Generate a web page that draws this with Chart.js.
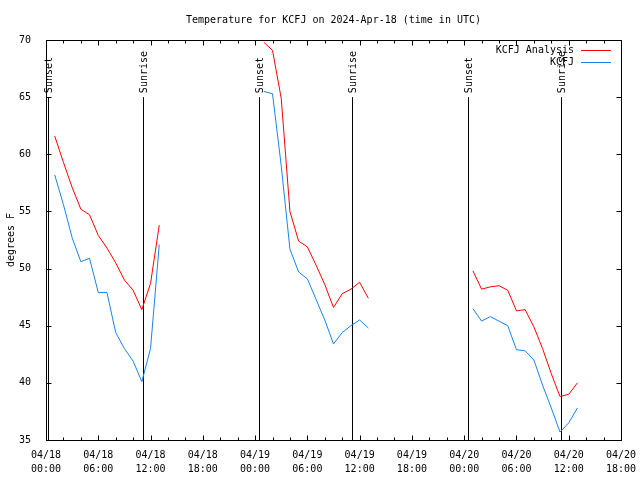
<!DOCTYPE html>
<html><head><meta charset="utf-8">
<script src="https://cdn.jsdelivr.net/npm/chart.js@4/dist/chart.umd.min.js"></script>
<style>html,body{margin:0;padding:0;background:#fff}canvas{display:block}</style>
</head><body>
<canvas id="c" width="640" height="480"></canvas>
<script>
const titleText = 'Temperature for KCFJ on 2024-Apr-18 (time in UTC)';
const yAxisTitle = 'degrees F';
const seriesNames = ['KCFJ Analysis', 'KCFJ'];
const seriesColors = ['#ff0000', '#1a82f0'];
// hours since 04/18 00:00 UTC (null values break the line between days)
const hours = [1,2,3,4,5,6,7,8,9,10,11,12,13, 14,
               25,26,27,28,29,30,31,32,33,34,35,36,37, 38,
               49,50,51,52,53,54,55,56,57,58,59,60,61];
const analysisTemps = [61.6,59.3,57.1,55.2,54.7,52.9,51.8,50.5,49.0,48.1,46.4,48.7,53.8, null,
                       69.8,69.1,64.9,55.0,52.4,51.9,50.3,48.6,46.6,47.8,48.2,48.8,47.4, null,
                       49.8,48.2,48.4,48.5,48.1,46.3,46.4,44.9,43.0,40.8,38.8,39.0,40.0];
const observedTemps = [58.2,55.6,52.7,50.6,50.9,47.9,47.9,44.4,43.0,41.9,40.1,43.0,52.1, null,
                       65.5,65.3,59.0,51.7,49.7,49.1,47.3,45.5,43.4,44.4,45.0,45.5,44.8, null,
                       46.5,45.4,45.8,45.4,45.0,42.9,42.8,42.0,39.8,37.8,35.7,36.5,37.8];
const xLabelHours = [0,6,12,18,24,30,36,42,48,54,60,66];
const xTickLabels = [['04/18','00:00'],['04/18','06:00'],['04/18','12:00'],['04/18','18:00'],
                     ['04/19','00:00'],['04/19','06:00'],['04/19','12:00'],['04/19','18:00'],
                     ['04/20','00:00'],['04/20','06:00'],['04/20','12:00'],['04/20','18:00']];
const xMinorStep = 2;
const yTicks = [35,40,45,50,55,60,65,70];
const sunLabels = ['Sunset','Sunrise','Sunset','Sunrise','Sunset','Sunrise'];
const sunHours = [0.28, 11.1, 24.45, 35.15, 48.45, 59.1];
const sunLineTop = 65;

const FONT = '"DejaVu Sans Mono", "Liberation Mono", monospace';

const decor = {
  id: 'decor',
  beforeDatasetsDraw(chart) {
    const ctx = chart.ctx, xs = chart.scales.x, ys = chart.scales.y;
    ctx.save();
    ctx.strokeStyle = '#000'; ctx.lineWidth = 1;
    const yb = ys.getPixelForValue(ys.min), yt = ys.getPixelForValue(sunLineTop);
    ctx.font = '10px ' + FONT; ctx.fillStyle = '#000';
    sunHours.forEach((h, i) => {
      const x = Math.round(xs.getPixelForValue(h)) + 0.5;
      ctx.beginPath(); ctx.moveTo(x, yb); ctx.lineTo(x, yt); ctx.stroke();
      ctx.save();
      ctx.translate(x + 1, yt - 4);
      ctx.rotate(-Math.PI / 2);
      ctx.textAlign = 'left'; ctx.textBaseline = 'middle';
      ctx.fillText(sunLabels[i], 0, 0);
      ctx.restore();
    });
    ctx.restore();
  },
  afterDraw(chart) {
    const ctx = chart.ctx, xs = chart.scales.x, ys = chart.scales.y, a = chart.chartArea;
    ctx.save();
    ctx.strokeStyle = '#000'; ctx.lineWidth = 1;
    const L = Math.round(a.left) + 0.5, R = Math.round(a.right) + 0.5;
    const T = Math.round(a.top) + 0.5, B = Math.round(a.bottom) + 0.5;
    ctx.strokeRect(L, T, R - L, B - T);
    ctx.beginPath();
    for (let h = xs.min; h <= xs.max; h += xMinorStep) {
      const x = Math.round(xs.getPixelForValue(h)) + 0.5;
      const len = xLabelHours.includes(h) ? 5 : 3;
      ctx.moveTo(x, B); ctx.lineTo(x, B - len);
      ctx.moveTo(x, T); ctx.lineTo(x, T + len);
    }
    yTicks.forEach(v => {
      const y = Math.round(ys.getPixelForValue(v)) + 0.5;
      ctx.moveTo(L, y); ctx.lineTo(L + 5, y);
      ctx.moveTo(R, y); ctx.lineTo(R - 5, y);
    });
    ctx.stroke();
    ctx.fillStyle = '#000';
    ctx.font = '10px ' + FONT;
    ctx.textAlign = 'center'; ctx.textBaseline = 'middle';
    ctx.fillText(titleText, (a.left + a.right) / 2, 20);
    ctx.save();
    ctx.translate(11, (a.top + a.bottom) / 2);
    ctx.rotate(-Math.PI / 2);
    ctx.fillText(yAxisTitle, 0, 0);
    ctx.restore();
    // legend
    ctx.textAlign = 'right';
    seriesNames.forEach((n, i) => {
      const y = 50 + i * 12;
      ctx.fillStyle = '#000';
      ctx.fillText(n, 574, y);
      ctx.strokeStyle = seriesColors[i];
      ctx.beginPath(); ctx.moveTo(581, y + 0.5); ctx.lineTo(611, y + 0.5); ctx.stroke();
    });
    ctx.restore();
  }
};

const mk = vals => hours.map((h, i) => ({ x: h, y: vals[i] }));

new Chart(document.getElementById('c'), {
  type: 'line',
  data: {
    datasets: [
      { label: seriesNames[0], data: mk(analysisTemps), borderColor: seriesColors[0], borderWidth: 1,
        pointRadius: 0, tension: 0, spanGaps: false, fill: false },
      { label: seriesNames[1], data: mk(observedTemps), borderColor: seriesColors[1], borderWidth: 1,
        pointRadius: 0, tension: 0, spanGaps: false, fill: false }
    ]
  },
  options: {
    responsive: false, animation: false, devicePixelRatio: 1,
    layout: { padding: { top: 40, right: 19, left: 0, bottom: 0 } },
    plugins: { legend: { display: false }, title: { display: false }, tooltip: { enabled: false } },
    scales: {
      x: {
        type: 'linear', min: 0, max: 66,
        afterBuildTicks: s => { const t = []; for (let h = 0; h <= 66; h += xMinorStep) t.push({ value: h }); s.ticks = t; },
        ticks: {
          autoSkip: false, maxRotation: 0, minRotation: 0, padding: 0, color: '#000',
          font: { family: FONT, size: 10, lineHeight: 1.4 },
          callback: v => { const i = xLabelHours.indexOf(v); return i >= 0 ? xTickLabels[i] : ''; }
        },
        grid: { display: false }, border: { display: false },
        afterFit: s => { s.height = 40; }
      },
      y: {
        type: 'linear', min: 35, max: 70,
        afterBuildTicks: s => { s.ticks = yTicks.map(v => ({ value: v })); },
        ticks: { padding: 7, color: '#000', font: { family: FONT, size: 10 } },
        grid: { display: false }, border: { display: false },
        afterFit: s => { s.width = 46; }
      }
    }
  },
  plugins: [decor]
});
</script>
</body></html>
